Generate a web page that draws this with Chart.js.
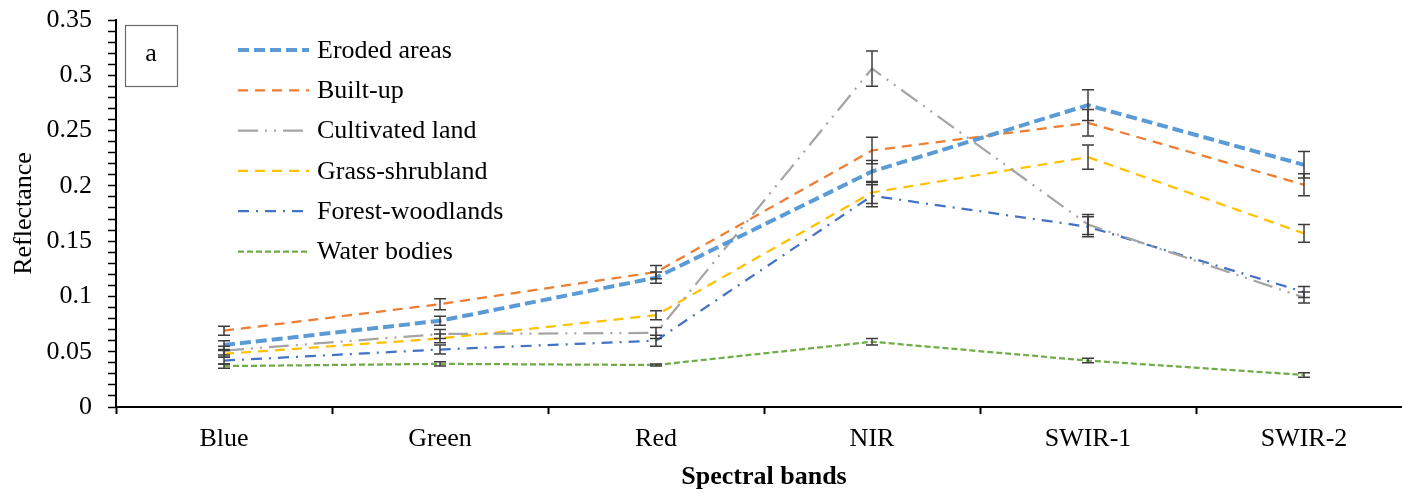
<!DOCTYPE html>
<html>
<head>
<meta charset="utf-8">
<script src="https://cdn.jsdelivr.net/npm/chart.js@4"></script>
<style>
  html, body { margin: 0; padding: 0; background: #fff; overflow: hidden; }
  #wrap { position: relative; width: 1412px; height: 493px; }
</style>
</head>
<body>
<div id="wrap"><canvas id="spectraChart"></canvas></div>
<script>
const bands = ['Blue', 'Green', 'Red', 'NIR', 'SWIR-1', 'SWIR-2'];
const yTickLabels = ['0', '0.05', '0.1', '0.15', '0.2', '0.25', '0.3', '0.35'];

const eroded     = [0.056, 0.078, 0.117, 0.213, 0.273, 0.219];
const builtUp    = [0.069, 0.093, 0.122, 0.232, 0.257, 0.201];
const cultivated = [0.051, 0.066, 0.067, 0.306, 0.165, 0.099];
const grass      = [0.048, 0.062, 0.083, 0.194, 0.226, 0.157];
const forest     = [0.042, 0.052, 0.060, 0.191, 0.163, 0.104];
const water      = [0.037, 0.039, 0.038, 0.059, 0.042, 0.029];

// +/- standard deviation
const erodedErr     = [0.004, 0.004, 0.005, 0.010, 0.014, 0.012];
const builtUpErr    = [0.004, 0.005, 0.006, 0.012, 0.012, 0.010];
const cultivatedErr = [0.004, 0.004, 0.005, 0.016, 0.009, 0.005];
const grassErr      = [0.003, 0.004, 0.004, 0.010, 0.011, 0.008];
const forestErr     = [0.003, 0.004, 0.005, 0.010, 0.009, 0.005];
const waterErr      = [0.002, 0.002, 0.001, 0.003, 0.002, 0.002];

const FONT = 'Liberation Serif';

function series(label, data, err, color, width, dash) {
  return {
    label: label, data: data, err: err,
    borderColor: color, backgroundColor: color,
    borderWidth: width, borderDash: dash,
    pointRadius: 0, tension: 0, fill: false
  };
}

const datasets = [
  series('Eroded areas', eroded, erodedErr, '#5B9BD5', 4, [11, 5]),
  series('Built-up', builtUp, builtUpErr, '#ED7D31', 2.25, [10, 7]),
  series('Cultivated land', cultivated, cultivatedErr, '#A5A5A5', 2.25, [20, 7, 2, 7, 2, 7]),
  series('Grass-shrubland', grass, grassErr, '#FFC000', 2.25, [10, 7]),
  series('Forest-woodlands', forest, forestErr, '#4472C4', 2.25, [11, 7, 2, 7]),
  series('Water bodies', water, waterErr, '#70AD47', 2.25, [6, 3])
];

const errorBars = {
  id: 'errorBars',
  afterDatasetsDraw(chart) {
    const ctx = chart.ctx;
    const xs = chart.scales.x, ys = chart.scales.y;
    ctx.save();
    ctx.strokeStyle = '#3c3c3c';
    ctx.lineWidth = 1.5;
    chart.data.datasets.forEach(ds => {
      ds.data.forEach((v, i) => {
        const x = xs.getPixelForValue(i);
        const t = ys.getPixelForValue(v + ds.err[i]);
        const b = ys.getPixelForValue(v - ds.err[i]);
        ctx.beginPath();
        ctx.moveTo(x, t); ctx.lineTo(x, b);
        ctx.moveTo(x - 6, t); ctx.lineTo(x + 6, t);
        ctx.moveTo(x - 6, b); ctx.lineTo(x + 6, b);
        ctx.stroke();
      });
    });
    ctx.restore();
  }
};

const legendBox = {
  id: 'legendBox',
  afterDraw(chart) {
    const ctx = chart.ctx;
    ctx.save();
    // panel tag
    ctx.strokeStyle = '#6b6b6b';
    ctx.lineWidth = 1.2;
    ctx.strokeRect(125.5, 25.5, 52, 61);
    ctx.fillStyle = '#000';
    ctx.font = '26px "' + FONT + '"';
    ctx.textAlign = 'center';
    ctx.textBaseline = 'middle';
    ctx.fillText('a', 151, 54);
    // legend
    ctx.textAlign = 'left';
    chart.data.datasets.forEach((ds, i) => {
      const y = 50 + i * 40.3;
      ctx.strokeStyle = ds.borderColor;
      ctx.lineWidth = ds.borderWidth;
      ctx.setLineDash(ds.borderDash);
      ctx.beginPath();
      ctx.moveTo(238, y); ctx.lineTo(309, y);
      ctx.stroke();
      ctx.setLineDash([]);
      ctx.fillStyle = '#000';
      ctx.fillText(ds.label, 317, y + 1);
    });
    ctx.restore();
  }
};

const ctx = document.getElementById('spectraChart').getContext('2d');
const spectraChart = new Chart(ctx, {
  type: 'line',
  data: { labels: bands, datasets: datasets },
  plugins: [errorBars, legendBox],
  options: {
    responsive: true,
    maintainAspectRatio: false,
    animation: false,
    layout: { padding: { top: 20, left: 0, right: 0, bottom: 0 } },
    plugins: { legend: { display: false }, tooltip: { enabled: false } },
    scales: {
      x: {
        offset: true,
        grid: { offset: true, drawOnChartArea: false, color: '#000', tickLength: 7, tickWidth: 2 },
        border: { color: '#000', width: 2 },
        ticks: { color: '#000', font: { family: FONT, size: 26 }, padding: 10 },
        title: { display: true, text: 'Spectral bands', color: '#000', font: { family: FONT, size: 26, weight: 'bold' }, padding: { top: 0, bottom: 0 } },
        afterFit(scale) { scale.height = 86; scale.paddingLeft = 0; scale.paddingRight = 0; }
      },
      y: {
        min: 0, max: 0.35,
        grid: { drawOnChartArea: false, color: '#000', tickLength: 8, tickWidth: 1.5 },
        border: { color: '#000', width: 2 },
        ticks: {
          stepSize: 0.01, autoSkip: false, color: '#000', font: { family: FONT, size: 26 }, padding: 16,
          callback(value) {
            const r = Math.round(value * 100);
            return r % 5 === 0 ? yTickLabels[r / 5] : '';
          }
        },
        title: { display: true, text: 'Reflectance', color: '#000', font: { family: FONT, size: 26 }, padding: { top: 9, bottom: 9 } },
        afterFit(scale) { scale.width = 116; scale.paddingTop = 0; scale.paddingBottom = 0; }
      }
    }
  }
});
</script>
</body>
</html>
